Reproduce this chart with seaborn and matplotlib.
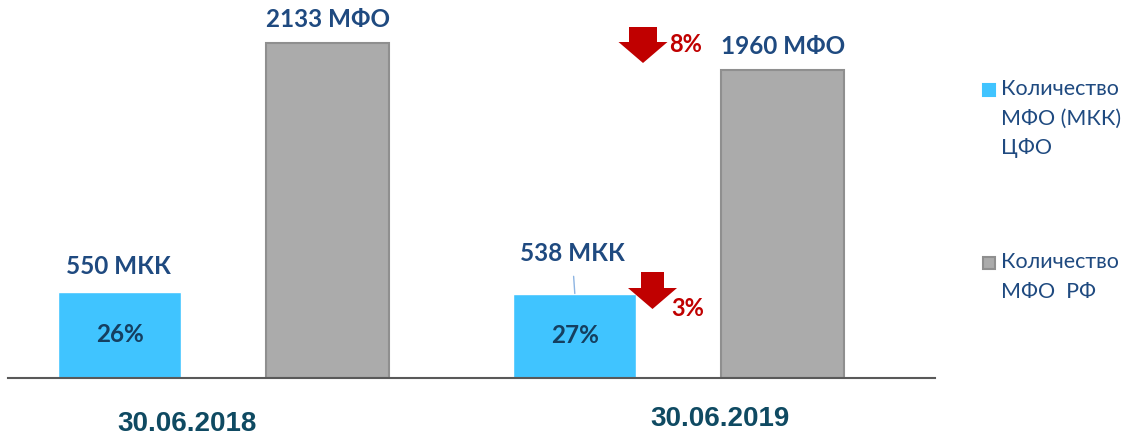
import pandas as pd
import seaborn as sns
import matplotlib.pyplot as plt
from matplotlib.patches import Polygon, Rectangle
from matplotlib.transforms import ScaledTranslation

# data
dates = ["30.06.2018", "30.06.2019"]
series = ["Количество\nМФО (МКК)\nЦФО", "Количество\nМФО  РФ"]
mkk_cfo = [550, 538]
mfo_rf = [2133, 1960]
mkk_labels = ["550 МКК", "538 МКК"]
rf_labels = ["2133 МФО", "1960 МФО"]
shares = ["26%", "27%"]
decline_mkk = "3%"
decline_rf = "8%"

BLUE = "#40C4FF"
GRAY = "#ABABAB"
GRAY_EDGE = "#8F8F8F"
NAVY = "#1F4A80"
RED = "#C00000"
FONT = ["Lato", "Open Sans", "DejaVu Sans"]

df = pd.DataFrame({
    "date": dates * 2,
    "count": mkk_cfo + mfo_rf,
    "series": [series[0]] * 2 + [series[1]] * 2,
})

sns.set_style("white")
plt.rcParams["font.family"] = FONT

W, H = 1124, 442
fig = plt.figure(figsize=(W / 100, H / 100), dpi=100)
ax = fig.add_axes([8 / W, 64 / H, 927 / W, 378 / H])

sns.barplot(data=df, x="date", y="count", hue="series", palette=[BLUE, GRAY],
            width=0.914, gap=0.41, legend=False, ax=ax, saturation=1)
ax.set_xlim(-0.474, 1.563)
ax.set_ylim(0, 2407)

for p in ax.containers[1]:
    p.set_edgecolor(GRAY_EDGE)
    p.set_linewidth(1.5)

# axes cosmetics
for s in ["top", "left", "right"]:
    ax.spines[s].set_visible(False)
ax.spines["bottom"].set_color("#595959")
ax.spines["bottom"].set_linewidth(1.5)
ax.set_yticks([])
ax.set_xlabel("")
ax.set_ylabel("")
ax.set_xticks([-0.08, 1.09], dates)
ax.tick_params(axis="x", length=0, pad=24)
for lbl in ax.get_xticklabels():
    lbl.set_fontfamily(["Liberation Sans", "DejaVu Sans"])
    lbl.set_fontweight("bold")
    lbl.set_fontsize(20)
    lbl.set_color("#0F4A62")
ax.get_xticklabels()[1].set_transform(
    ax.get_xticklabels()[1].get_transform() + ScaledTranslation(0, 4 / 72, fig.dpi_scale_trans))

# value labels above bars
for i, p in enumerate(ax.containers[0]):
    cx = p.get_x() + p.get_width() / 2
    if i == 1:
        ax.annotate(mkk_labels[i], (cx, p.get_height()), xytext=(-2, 29),
                    textcoords="offset points", ha="center", va="center",
                    fontsize=17.5, fontweight="bold", color=NAVY,
                    arrowprops=dict(arrowstyle="-", color="#8DB4E2", lw=1,
                                    shrinkA=6, shrinkB=0))
    else:
        ax.annotate(mkk_labels[i], (cx, p.get_height()), xytext=(-1, 18),
                    textcoords="offset points", ha="center", va="center",
                    fontsize=17.5, fontweight="bold", color=NAVY)
for i, p in enumerate(ax.containers[1]):
    cx = p.get_x() + p.get_width() / 2
    ax.annotate(rf_labels[i], (cx, p.get_height()), xytext=(0, 17),
                textcoords="offset points", ha="center", va="center",
                fontsize=17.5, fontweight="bold", color=NAVY)

ax.bar_label(ax.containers[0], labels=shares, label_type="center",
             fontsize=17.5, fontweight="bold", color="#153F60")


# red down arrows (figure pixel coords, origin top-left)
def down_arrow(cx, top, shaft_w, head_w, base, tip):
    pts = [(cx - shaft_w / 2, top), (cx + shaft_w / 2, top), (cx + shaft_w / 2, base),
           (cx + head_w / 2, base), (cx, tip), (cx - head_w / 2, base),
           (cx - shaft_w / 2, base)]
    pts = [(x / W, 1 - y / H) for x, y in pts]
    fig.add_artist(Polygon(pts, closed=True, transform=fig.transFigure,
                           facecolor=RED, edgecolor="none"))


down_arrow(643, 27, 28, 49, 42, 63)
down_arrow(652.5, 272, 23, 49, 288, 309)
fig.text(669 / W, 1 - 44 / H, decline_rf, ha="left", va="center",
         fontsize=17, fontweight="bold", color=RED)
fig.text(671 / W, 1 - 308 / H, decline_mkk, ha="left", va="center",
         fontsize=17, fontweight="bold", color=RED)

# legend on the right
legend_rows = [(BLUE, BLUE, 84), (GRAY, GRAY_EDGE, 257)]
for (fc, ec, y), name in zip(legend_rows, series):
    fig.add_artist(Rectangle((983 / W, 1 - (y + 12) / H), 12 / W, 12 / H,
                             transform=fig.transFigure, facecolor=fc,
                             edgecolor=ec, linewidth=1.5))
    fig.text(1001 / W, 1 - (y - 5) / H, name, ha="left", va="top",
             fontsize=15.5, color=NAVY, linespacing=1.6)

fig.savefig("out.png", dpi=100)
